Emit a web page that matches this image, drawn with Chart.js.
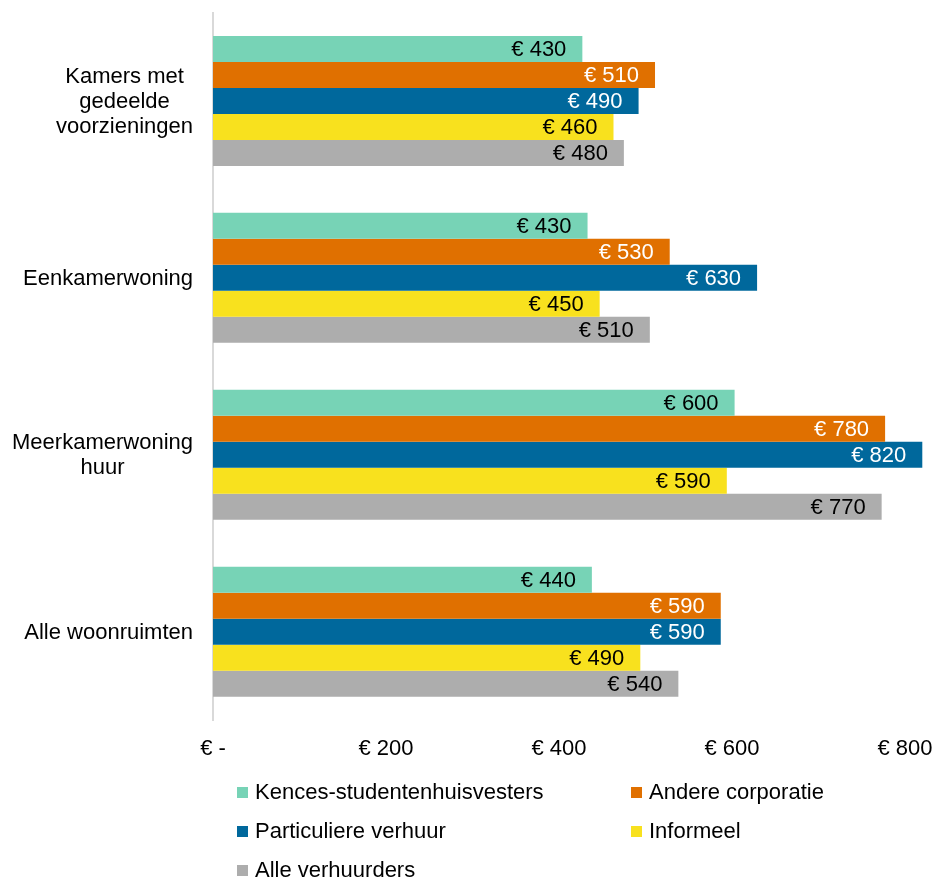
<!DOCTYPE html>
<html lang="nl">
<head>
<meta charset="utf-8">
<title>Huurprijzen per type woonruimte</title>
<script src="https://cdn.jsdelivr.net/npm/chart.js@4/dist/chart.umd.min.js"></script>
<style>
  body { margin: 0; background: #fff; }
  #wrap { position: relative; width: 936px; height: 877px; }
  #legenda { position: absolute; left: 0; top: 0; width: 936px; height: 877px; pointer-events: none;
             font-family: "Liberation Sans", Arial, sans-serif; font-size: 22px; color: #000; }
  .item { position: absolute; display: flex; align-items: center; white-space: nowrap; }
  .item span.blok { width: 11px; height: 11px; margin-right: 7px; display: inline-block; }
</style>
</head>
<body>
<div id="wrap">
  <canvas id="grafiek" width="936" height="877"></canvas>
  <div id="legenda"></div>
</div>
<script>
// Categorieen (y-as) en reeksen
const categorieen = [
    ['Kamers met', 'gedeelde', 'voorzieningen'],
    ['Eenkamerwoning'],
    ['Meerkamerwoning', 'huur'],
    ['Alle woonruimten']
];
const reeksNamen = ['Kences-studentenhuisvesters', 'Andere corporatie', 'Particuliere verhuur', 'Informeel', 'Alle verhuurders'];

// Gemiddelde huur per reeks (euro)
const kences = [427, 433, 603, 438];
const andereCorporatie = [511, 528, 777, 587];
const particuliereVerhuur = [492, 629, 820, 587];
const informeel = [463, 447, 594, 494];
const alleVerhuurders = [475, 505, 773, 538];

// Ticks van de x-as
const xTicks = [0, 200, 400, 600, 800];

// Kleuren
const kleuren = ['#77D3B6', '#E07000', '#00689C', '#F8E11E', '#ADADAD'];
const labelKleuren = ['#000000', '#ffffff', '#ffffff', '#000000', '#000000'];

const lettertype = '"Liberation Sans", Arial, sans-serif';
const reeksen = [kences, andereCorporatie, particuliereVerhuur, informeel, alleVerhuurders];

// Plugin om de waarden in de balken te schrijven
const waardeLabels = {
    id: 'waardeLabels',
    afterDatasetsDraw(chart) {
        const ctx = chart.ctx;
        ctx.save();
        ctx.font = '22px ' + lettertype;
        ctx.textAlign = 'right';
        ctx.textBaseline = 'middle';
        chart.data.datasets.forEach((ds, i) => {
            const meta = chart.getDatasetMeta(i);
            meta.data.forEach((bar, j) => {
                const afgerond = Math.round(ds.data[j] / 10) * 10;
                ctx.fillStyle = labelKleuren[i];
                ctx.fillText('€ ' + afgerond, bar.x - 16, bar.y + 1);
            });
        });
        ctx.restore();
    }
};

// Categorielabels: blok rechts uitgelijnd, regels gecentreerd
const categorieLabels = {
    id: 'categorieLabels',
    afterDraw(chart) {
        const ctx = chart.ctx;
        const schaal = chart.scales.y;
        ctx.save();
        ctx.font = '22px ' + lettertype;
        ctx.fillStyle = '#000';
        ctx.textAlign = 'center';
        ctx.textBaseline = 'middle';
        chart.data.labels.forEach((regels, i) => {
            const yMidden = schaal.getPixelForTick(i);
            const breedte = Math.max(...regels.map(r => ctx.measureText(r).width));
            const xMidden = schaal.right - 20 - breedte / 2;
            const start = yMidden - (regels.length - 1) * 25 / 2;
            regels.forEach((r, k) => ctx.fillText(r, xMidden, start + k * 25 + 1));
        });
        ctx.restore();
    }
};

const grafiek = new Chart(document.getElementById('grafiek'), {
    type: 'bar',
    data: {
        labels: categorieen,
        datasets: reeksen.map((waarden, i) => ({
            label: reeksNamen[i],
            data: waarden,
            backgroundColor: kleuren[i],
            borderWidth: 0,
            barPercentage: 1,
            categoryPercentage: 0.735,
            clip: false // balk boven € 800 mag doorlopen
        }))
    },
    options: {
        indexAxis: 'y',
        responsive: false,
        devicePixelRatio: 1,
        animation: false,
        layout: { padding: { top: 12.5, right: 31, bottom: 98.5, left: 0 } },
        plugins: {
            legend: { display: false },
            tooltip: { enabled: false }
        },
        scales: {
            x: {
                min: 0,
                max: 800,
                afterBuildTicks(scale) {
                    scale.ticks = xTicks.map(v => ({ value: v }));
                },
                afterFit(scale) {
                    scale.paddingLeft = 0;
                    scale.paddingRight = 0;
                },
                grid: { display: false, drawTicks: false },
                border: { display: false },
                ticks: {
                    padding: 16,
                    color: '#000',
                    font: { family: lettertype, size: 22 },
                    maxRotation: 0,
                    callback: v => v === 0 ? '€ -' : '€ ' + v
                }
            },
            y: {
                afterFit(scale) {
                    scale.width = 213;
                    scale.paddingTop = 0;
                    scale.paddingBottom = 0;
                },
                grid: { display: false, drawTicks: false },
                border: { display: true, color: '#D9D9D9', width: 2 },
                ticks: { display: false }
            }
        }
    },
    plugins: [waardeLabels, categorieLabels]
});

// HTML-legenda in twee kolommen
const legenda = document.getElementById('legenda');
const kolomX = [237, 631];
const rijY = [792, 831, 870];
grafiek.data.datasets.forEach((ds, i) => {
    const el = document.createElement('div');
    el.className = 'item';
    el.style.left = kolomX[i % 2] + 'px';
    el.style.top = (rijY[Math.floor(i / 2)] - 13) + 'px';
    el.style.height = '26px';
    const blok = document.createElement('span');
    blok.className = 'blok';
    blok.style.background = ds.backgroundColor;
    el.appendChild(blok);
    el.appendChild(document.createTextNode(ds.label));
    legenda.appendChild(el);
});
</script>
</body>
</html>
